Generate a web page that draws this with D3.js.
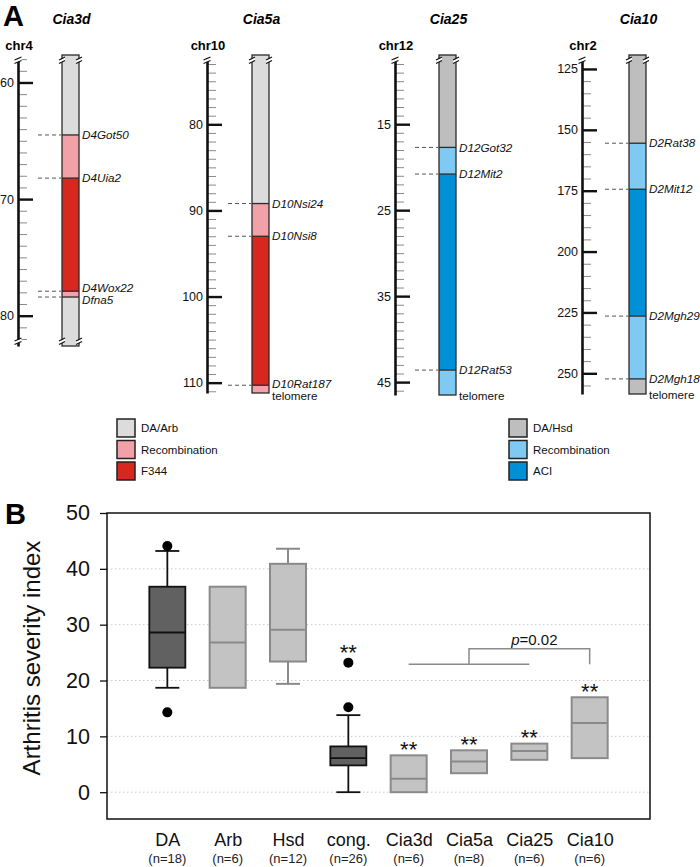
<!DOCTYPE html>
<html><head><meta charset="utf-8">
<script src="https://cdn.jsdelivr.net/npm/d3@7"></script>
<style>
body{margin:0;background:#fff}
svg{display:block}
text{font-family:"Liberation Sans",Arial,Helvetica,sans-serif}
</style>
</head><body>
<svg id="c" width="700" height="867"></svg>
<script>
// ---------------- Panel A data ----------------
const chromQTL = ["Cia3d", "Cia5a", "Cia25", "Cia10"];
const chromNames = ["chr4", "chr10", "chr12", "chr2"];
const chromDomains = [[57.9, 82.6], [72.3, 111.2], [7.3, 46.5], [120.5, 258.5]];
const chromMajorTicks = [[60, 70, 80], [80, 90, 100, 110], [15, 25, 35, 45], [125, 150, 175, 200, 225, 250]];
const chromMinorStep = [1, 1, 1, 5];
const markerNames = [
  ["D4Got50", "D4Uia2", "D4Wox22", "Dfna5"],
  ["D10Nsi24", "D10Nsi8", "D10Rat187"],
  ["D12Got32", "D12Mit2", "D12Rat53"],
  ["D2Rat38", "D2Mit12", "D2Mgh29", "D2Mgh18"]
];
const markerPos = [
  [64.5, 68.2, 77.9, 78.4],
  [89.2, 93.0, 110.3],
  [17.7, 20.8, 43.6],
  [155.5, 174.4, 226.5, 252.3]
];
const segmentTypes = [
  ["donor", "rec", "cong", "rec", "donor"],
  ["donor", "rec", "cong", "rec"],
  ["donor", "rec", "cong", "rec"],
  ["donor", "rec", "cong", "rec", "donor"]
];
const hasTelomere = [false, true, true, true];
const legendRed = ["DA/Arb", "Recombination", "F344"];
const legendBlue = ["DA/Hsd", "Recombination", "ACI"];

// ---------------- Panel B data ----------------
const groups = ["DA", "Arb", "Hsd", "cong.", "Cia3d", "Cia5a", "Cia25", "Cia10"];
const groupN = ["(n=18)", "(n=6)", "(n=12)", "(n=26)", "(n=6)", "(n=8)", "(n=6)", "(n=6)"];
const whiskerLow = [18.7, null, 19.4, 0, null, null, null, null];
const q1 = [22.3, 18.7, 23.4, 4.8, 0, 3.4, 5.8, 6.1];
const median = [28.6, 26.8, 29.1, 6.1, 2.4, 5.5, 7.4, 12.4];
const q3 = [36.8, 36.8, 40.9, 8.2, 6.6, 7.5, 8.7, 17.0];
const whiskerHigh = [43.2, null, 43.6, 13.8, null, null, null, null];
const outliers = [[44.1, 14.3], [], [], [15.2, 23.2], [], [], [], []];
const significant = [false, false, false, true, true, true, true, true];
const darkBox = [true, false, false, true, false, false, false, false];
const yTicks = [0, 10, 20, 30, 40, 50];
const gridTicks = [0, 10, 20, 30, 40];
const bracketFrom = "Cia3d", bracketMid = "Cia5a", bracketTo = "Cia25", bracketEnd = "Cia10";
const bracketLow = 22.9, bracketHigh = 25.7;
const pValue = "0.02";

// ---------------- drawing ----------------
const svg = d3.select("#c");
const FONT = '"Liberation Sans",Arial,sans-serif';

const palRed = {donor: "#dcdcdc", rec: "#f1a1a7", cong: "#d8271f"};
const palBlue = {donor: "#bebebe", rec: "#7ecaf2", cong: "#0090d8"};
const palettes = [palRed, palRed, palBlue, palBlue];

const axisX = [18, 207, 395, 582];
const barX = [62, 252, 439, 629];
const barW = 17;
const topY = 58;
const bottomY = [346, 393, 395, 394];
const bottomBreak = [true, false, false, false];

svg.append("text").attr("x", 3).attr("y", 26).attr("font-size", 29).attr("font-weight", "bold").text("A");
svg.append("text").attr("x", 5).attr("y", 524).attr("font-size", 29).attr("font-weight", "bold").text("B");

function breakMark(g, x, y, w) {
  const bg = g.append("g");
  bg.append("polygon")
    .attr("points", `${x - w},${y + 1.5} ${x + w},${y - 1.5} ${x + w},${y + 1.5} ${x - w},${y + 4.5}`)
    .attr("fill", "#fff");
  bg.append("line").attr("x1", x - w).attr("y1", y + 1).attr("x2", x + w).attr("y2", y - 2)
    .attr("stroke", "#111").attr("stroke-width", 1.1);
  bg.append("line").attr("x1", x - w).attr("y1", y + 4.5).attr("x2", x + w).attr("y2", y + 1.5)
    .attr("stroke", "#111").attr("stroke-width", 1.1);
}

chromQTL.forEach((qtl, i) => {
  const y = d3.scaleLinear().domain(chromDomains[i]).range([topY, bottomY[i]]);
  const g = svg.append("g");
  const pal = palettes[i];
  const [d0, d1] = chromDomains[i];

  g.append("text").attr("x", barX[i] + barW / 2 + 1).attr("y", 24).attr("text-anchor", "middle")
    .attr("font-size", 14).attr("font-weight", "bold").attr("font-style", "italic").text(qtl);
  g.append("text").attr("x", axisX[i] + 1).attr("y", 50).attr("text-anchor", "middle")
    .attr("font-size", 13).attr("font-weight", "bold").text(chromNames[i]);

  const majors = chromMajorTicks[i];
  const step = chromMinorStep[i];
  const minors = d3.range(Math.ceil(d0 / step) * step, d1 + 1e-9, step).filter(v => !majors.includes(v));
  const minorAxis = g.append("g").attr("transform", `translate(${axisX[i]},0)`)
    .call(d3.axisRight(y).tickValues(minors).tickSize(9).tickSizeOuter(0).tickFormat(""));
  minorAxis.select(".domain").remove();
  minorAxis.selectAll(".tick line").attr("stroke", "#8a8a8a").attr("stroke-width", 1);

  const majorAxis = g.append("g").attr("transform", `translate(${axisX[i]},0)`)
    .call(d3.axisRight(y).tickValues(majors).tickSize(15).tickSizeOuter(0).tickFormat(""));
  majorAxis.select(".domain").attr("stroke", "#111").attr("stroke-width", 2.6);
  majorAxis.selectAll(".tick line").attr("stroke", "#111").attr("stroke-width", 2.4);

  const labelAxis = g.append("g").attr("transform", `translate(${axisX[i]},0)`)
    .call(d3.axisLeft(y).tickValues(majors).tickSize(0).tickPadding(4));
  labelAxis.select(".domain").remove();
  labelAxis.selectAll("text").attr("font-size", 12.5).attr("font-family", FONT).attr("fill", "#111");

  const bounds = [d0].concat(markerPos[i]).concat([d1]);
  const x0 = barX[i];
  segmentTypes[i].forEach((t, k) => {
    const ya = k === 0 ? y(bounds[k]) - 3 : y(bounds[k]);
    const yb = y(bounds[k + 1]);
    g.append("rect").attr("x", x0).attr("y", ya).attr("width", barW).attr("height", yb - ya)
      .attr("fill", pal[t]);
  });
  markerPos[i].forEach(m => {
    g.append("line").attr("x1", x0).attr("x2", x0 + barW).attr("y1", y(m)).attr("y2", y(m))
      .attr("stroke", "#2a2a2a").attr("stroke-width", 1.3);
    g.append("line").attr("x1", x0 - 24).attr("x2", x0 - 1).attr("y1", y(m)).attr("y2", y(m))
      .attr("stroke", "#555").attr("stroke-width", 1).attr("stroke-dasharray", "4,3");
  });
  g.append("rect").attr("x", x0).attr("y", y(d0) - 3).attr("width", barW).attr("height", y(d1) - y(d0) + 3)
    .attr("fill", "none").attr("stroke", "#2a2a2a").attr("stroke-width", 1.3);

  breakMark(g, axisX[i], topY + 1, 3.5);
  breakMark(g, x0, topY + 1, 3);
  breakMark(g, x0 + barW, topY + 1, 3);
  if (bottomBreak[i]) {
    breakMark(g, axisX[i], y(d1) - 6, 3.5);
    breakMark(g, x0, y(d1) - 6, 3);
    breakMark(g, x0 + barW, y(d1) - 6, 3);
  }

  const labels = markerNames[i].map((n, k) => ({text: n, y: y(markerPos[i][k]), italic: true}));
  if (hasTelomere[i]) labels.push({text: "telomere", y: y(d1) + 1, italic: false});
  const gap = 12;
  for (let it = 0; it < 5; it++) {
    for (let k = 1; k < labels.length; k++) {
      const d = labels[k].y - labels[k - 1].y;
      if (d < gap) {
        const s = (gap - d) / 2;
        labels[k - 1].y -= s;
        labels[k].y += s;
      }
    }
  }
  labels.forEach(l => {
    g.append("text").attr("x", x0 + barW + 3).attr("y", l.y).attr("dy", "0.35em")
      .attr("font-size", 11.7).attr("font-style", l.italic ? "italic" : "normal").attr("fill", "#111")
      .text(l.text);
  });
});

function legend(items, pal, lx) {
  const keys = ["donor", "rec", "cong"];
  items.forEach((t, k) => {
    const cy = 428 + k * 21.5;
    svg.append("rect").attr("x", lx).attr("y", cy - 9).attr("width", 18).attr("height", 18)
      .attr("fill", pal[keys[k]]).attr("stroke", "#222").attr("stroke-width", 1.5);
    svg.append("text").attr("x", lx + 24).attr("y", cy).attr("dy", "0.35em")
      .attr("font-size", 11.5).attr("fill", "#111").text(t);
  });
}
legend(legendRed, palRed, 117);
legend(legendBlue, palBlue, 509);

// ---------------- Panel B ----------------
const L = 107, R = 650, T = 513, B = 819;
const x = d3.scalePoint().domain(groups).range([L, R]).padding(1);
const y = d3.scaleLinear().domain([-4.8, 50]).range([B, T]);
const gB = svg.append("g");

gB.selectAll(".grid").data(gridTicks).enter().append("line")
  .attr("x1", L).attr("x2", R).attr("y1", d => y(d)).attr("y2", d => y(d))
  .attr("stroke", "#c9c9c9").attr("stroke-width", 1).attr("stroke-dasharray", "1.5,2.5");

const yAx = gB.append("g").attr("transform", `translate(${L},0)`)
  .call(d3.axisLeft(y).tickValues(yTicks).tickSize(7).tickPadding(10).tickSizeOuter(0));
yAx.select(".domain").remove();
yAx.selectAll(".tick line").attr("stroke", "#111").attr("stroke-width", 1.3);
yAx.selectAll("text").attr("font-size", 21.5).attr("font-family", FONT).attr("fill", "#111");

gB.append("text").attr("transform", `translate(40,${(T + B) / 2 - 8}) rotate(-90)`)
  .attr("text-anchor", "middle").attr("font-size", 24).attr("fill", "#111").text("Arthritis severity index");

const xAx = gB.append("g").attr("transform", `translate(0,${B})`)
  .call(d3.axisBottom(x).tickSize(0).tickPadding(14));
xAx.select(".domain").remove();
xAx.selectAll("text").attr("font-size", 18).attr("font-family", FONT).attr("fill", "#111");
groups.forEach((gname, i) => {
  gB.append("text").attr("x", x(gname)).attr("y", 863).attr("text-anchor", "middle")
    .attr("font-size", 13).attr("fill", "#222").text(groupN[i]);
});

const bw = 36, cap = 24;
groups.forEach((gname, i) => {
  const cx = x(gname);
  const dk = darkBox[i];
  const stroke = dk ? "#111" : "#8a8a8a";
  const fill = dk ? "#616161" : "#c3c3c3";
  const sw = dk ? 1.8 : 2;
  if (whiskerHigh[i] != null) {
    gB.append("line").attr("x1", cx).attr("x2", cx).attr("y1", y(q3[i])).attr("y2", y(whiskerHigh[i]))
      .attr("stroke", stroke).attr("stroke-width", sw);
    gB.append("line").attr("x1", cx - cap / 2).attr("x2", cx + cap / 2).attr("y1", y(whiskerHigh[i])).attr("y2", y(whiskerHigh[i]))
      .attr("stroke", stroke).attr("stroke-width", sw);
  }
  if (whiskerLow[i] != null) {
    gB.append("line").attr("x1", cx).attr("x2", cx).attr("y1", y(q1[i])).attr("y2", y(whiskerLow[i]))
      .attr("stroke", stroke).attr("stroke-width", sw);
    gB.append("line").attr("x1", cx - cap / 2).attr("x2", cx + cap / 2).attr("y1", y(whiskerLow[i])).attr("y2", y(whiskerLow[i]))
      .attr("stroke", stroke).attr("stroke-width", sw);
  }
  gB.append("rect").attr("x", cx - bw / 2).attr("y", y(q3[i])).attr("width", bw).attr("height", y(q1[i]) - y(q3[i]))
    .attr("fill", fill).attr("stroke", stroke).attr("stroke-width", sw);
  gB.append("line").attr("x1", cx - bw / 2).attr("x2", cx + bw / 2).attr("y1", y(median[i])).attr("y2", y(median[i]))
    .attr("stroke", stroke).attr("stroke-width", sw);
  outliers[i].forEach(o => {
    gB.append("circle").attr("cx", cx).attr("cy", y(o)).attr("r", 5).attr("fill", "#000");
  });
  if (significant[i]) {
    let top = y(q3[i]) - 1;
    if (whiskerHigh[i] != null) top = Math.min(top, y(whiskerHigh[i]) - 1);
    outliers[i].forEach(o => { top = Math.min(top, y(o) - 5); });
    const cyS = top - 10;
    gB.append("text").attr("x", cx).attr("y", cyS + 12.5).attr("text-anchor", "middle")
      .attr("font-size", 22).attr("fill", "#111").text("**");
  }
});

const bc = "#8a8a8a";
gB.append("line").attr("x1", x(bracketFrom)).attr("x2", x(bracketTo)).attr("y1", y(bracketLow)).attr("y2", y(bracketLow))
  .attr("stroke", bc).attr("stroke-width", 1.5);
gB.append("path")
  .attr("d", `M${x(bracketMid)},${y(bracketLow)} V${y(bracketHigh)} H${x(bracketEnd)} V${y(bracketLow)}`)
  .attr("fill", "none").attr("stroke", bc).attr("stroke-width", 1.5);
const pt = gB.append("text").attr("x", (x(bracketMid) + x(bracketEnd)) / 2 + 5).attr("y", y(bracketHigh) - 4)
  .attr("text-anchor", "middle").attr("font-size", 15).attr("fill", "#111");
pt.append("tspan").attr("font-style", "italic").text("p");
pt.append("tspan").text("=" + pValue);

gB.append("rect").attr("x", L).attr("y", T).attr("width", R - L).attr("height", B - T)
  .attr("fill", "none").attr("stroke", "#111").attr("stroke-width", 1.5);
</script>
</body></html>
